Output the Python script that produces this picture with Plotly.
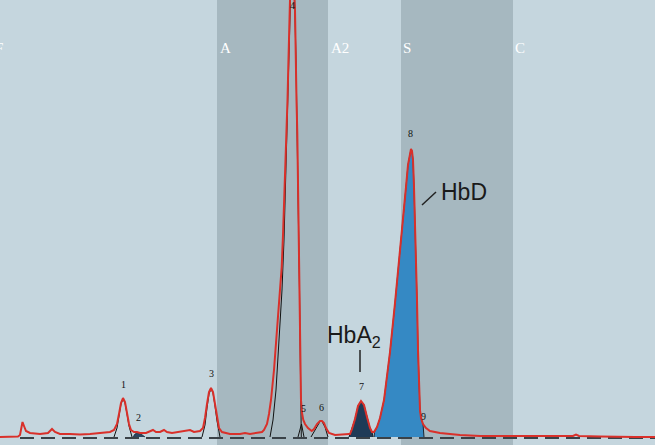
"""
HPLC chromatogram (Hb variant screen) - HbA2 and HbD peaks with retention windows.
"""

import plotly.graph_objects as go

# Retention windows (start, end, label, label position)
WINDOW_NAMES = ['A', 'A2', 'S', 'C']
WINDOW_LABEL_X = [218, 329, 401, 513]
SHADED_WINDOWS = [(217, 328), (401, 513)]

# Measured signal (red trace)
time_pts = [
    0, 10, 18, 20, 21, 22.5, 24, 26, 30, 40, 48, 52, 55, 60, 70, 80, 90, 100,
    105, 110, 114, 117, 119, 121, 123, 125, 127, 129, 131, 134, 137, 140, 146,
    150, 153, 156, 160, 164, 167, 172, 180, 186, 190, 194, 200, 203, 205, 207,
    209, 211, 213, 215, 217, 219, 222, 230, 240, 245, 250, 258, 262, 264, 267,
    269, 271, 274, 276.7, 279, 281.7, 283, 284.3, 285.5, 286.7, 287.5, 288.3,
    289, 289.5, 290.5, 292, 293.5, 295, 295.7, 296.5, 297.3, 297.8, 298.3,
    298.8, 299.3, 299.7, 300, 300.5, 301, 302, 303.3, 305, 308, 311.7, 314,
    317, 320, 322, 324, 326, 329, 335, 343, 349, 350, 352, 355, 358, 361, 364,
    367, 370, 372, 374, 377, 380, 384, 388, 390, 395, 400, 403, 406, 408, 410,
    411, 412, 413, 414, 415, 416, 417, 418, 419, 420, 421, 423, 426, 430, 440,
    450, 460, 480, 520, 560, 573, 576, 579, 600, 620, 625, 635, 655,
]
signal = [
    0, 0, 0.5, 2, 9, 15, 11, 6, 4, 3, 4, 8, 5, 3, 3, 2.5, 3, 4,
    5, 5, 7, 13, 23, 34, 39, 35, 24, 13, 7, 5, 5, 4, 4,
    6, 7, 5, 5, 7, 5, 4, 5, 6, 7, 5, 6, 9, 19, 33,
    45, 49, 45, 33, 19, 9, 5, 3, 3, 4, 3, 4, 5, 7, 13,
    23, 37, 67, 104, 137, 170, 202, 237, 272, 304, 337, 370,
    402, 427, 457, 472, 457, 427, 370, 337, 304, 270, 237,
    204, 170, 137, 104, 70, 37, 24, 17, 13, 9, 6, 8,
    13, 16, 16, 14, 9, 4, 2, 3, 3, 3, 8, 18, 31, 36, 32,
    20, 9, 5, 5, 10, 19, 37, 67, 85, 134, 184, 215, 250, 272, 285,
    288, 286, 277, 250, 217, 184, 137, 87, 52, 27, 19, 13, 9, 6, 4,
    3, 2, 1, 1, 1, 1, 2.5, 1, 0.5, 0, 0.5, 0, 0,
]

# Fitted peak outlines (black)
fit_peaks = [
    ([114, 117, 119, 121, 123, 125, 127, 129, 132],
     [0, 9, 21, 33, 38, 34, 23, 11, 0]),
    ([202, 205, 207, 209, 211, 213, 215, 217, 220],
     [0, 12, 29, 43, 48, 44, 31, 16, 0]),
    ([270, 273, 276, 279, 282, 284, 286, 288, 289.5, 291, 293, 294.5, 296,
      297.3, 298.5, 299.5, 300.3, 300.8, 301.3],
     [0, 17, 47, 92, 147, 197, 267, 347, 407, 457, 467, 442, 377,
      304, 227, 147, 77, 27, 0]),
    ([298, 301.5, 304], [0, 13, 0]),
    ([311, 314, 317, 320, 322, 325, 328], [0, 5, 11, 15.5, 15.5, 10, 0]),
]

# Integrated areas: peak 2, HbA2 (7), HbD (8)
p2_time = [133, 135, 138, 141, 145]
p2_signal = [0, 3, 4.5, 3, 0]
p7_time = [349, 350, 352, 355, 358, 361, 364, 367, 370, 372, 373]
p7_signal = [0, 3, 8, 18, 31, 36, 32, 20, 9, 5, 0]
p8_time = [374, 374.5, 377, 380, 384, 388, 390, 395, 400, 403, 406, 408, 410,
           411, 412, 413, 414, 415, 416, 417, 418, 419, 420, 421, 423, 424]
p8_signal = [0, 5, 10, 19, 37, 67, 85, 134, 184, 215, 250, 272, 285,
             288, 286, 277, 250, 217, 184, 137, 87, 52, 27, 19, 13, 0]

# Peak numbers
peak_ids = ['1', '2', '3', '4', '5', '6', '7', '8', '9']
peak_label_x = [123, 138, 211, 292, 303, 321, 361, 410, 423]
peak_label_y = [53, 20, 64, 432, 29, 30, 51, 304, 21]

BG_LIGHT = '#C5D6DE'
BG_DARK = '#A6B8C0'
RED = '#D9302A'

fig = go.Figure()

# Filled areas
fig.add_trace(go.Scatter(x=p2_time, y=p2_signal, mode='lines', fill='tozeroy',
                         fillcolor='#2B4660', line=dict(color='#1B2B3A', width=0.8),
                         showlegend=False, hoverinfo='skip'))
fig.add_trace(go.Scatter(x=p7_time, y=p7_signal, mode='lines', fill='tozeroy',
                         fillcolor='#1F3B57', line=dict(color='#15222E', width=1),
                         showlegend=False, hoverinfo='skip'))
fig.add_trace(go.Scatter(x=p8_time, y=p8_signal, mode='lines', fill='tozeroy',
                         fillcolor='#3589C4', line=dict(color='#1A2530', width=1),
                         showlegend=False, hoverinfo='skip'))

# Fitted peaks
for fx, fy in fit_peaks:
    fig.add_trace(go.Scatter(x=fx, y=fy, mode='lines',
                             line=dict(color='#111111', width=1),
                             showlegend=False, hoverinfo='skip'))

# Measured trace
fig.add_trace(go.Scatter(x=time_pts, y=signal, mode='lines',
                         line=dict(color=RED, width=2),
                         showlegend=False, name='signal'))

# Window backgrounds
for x0, x1 in SHADED_WINDOWS:
    fig.add_shape(type='rect', xref='x', yref='paper', x0=x0, x1=x1, y0=0, y1=1,
                  fillcolor=BG_DARK, line_width=0, layer='below')

# Baseline
fig.add_shape(type='line', xref='x', yref='y', x0=20, x1=655, y0=-1, y1=-1,
              line=dict(color='#3A4248', width=2, dash='14px,7px'), layer='below')

win_font = dict(family='Liberation Serif', size=15, color='white')
annotations = []
# 'F' window label sits just off the left edge, only its tail shows
annotations.append(dict(x=0, y=389, xref='paper', yref='y', text='F', showarrow=False,
                        xanchor='right', xshift=5, font=win_font))
for name, lx in zip(WINDOW_NAMES, WINDOW_LABEL_X):
    annotations.append(dict(x=lx, y=389, text=name, showarrow=False,
                            xanchor='left', font=win_font))
for pid, px, py in zip(peak_ids, peak_label_x, peak_label_y):
    annotations.append(dict(x=px, y=py, text=pid, showarrow=False,
                            font=dict(family='Liberation Serif', size=10, color='#111111')))

annotations.append(dict(x=354, y=101, text='HbA<sub>2</sub>', showarrow=False,
                        font=dict(family='Liberation Sans', size=23, color='#1A1A1A')))
annotations.append(dict(x=439, y=245, text='HbD', showarrow=False, xanchor='left',
                        font=dict(family='Liberation Sans', size=23, color='#1A1A1A')))
fig.update_layout(annotations=annotations)

# Leader lines
fig.add_shape(type='line', xref='x', yref='y', x0=360, x1=360, y0=87, y1=65,
              line=dict(color='#222222', width=1.5))
fig.add_shape(type='line', xref='x', yref='y', x0=422, x1=436, y0=232, y1=245,
              line=dict(color='#222222', width=1.5))

fig.update_layout(
    width=655, height=445,
    margin=dict(l=0, r=0, t=0, b=0),
    paper_bgcolor=BG_LIGHT,
    plot_bgcolor=BG_LIGHT,
    showlegend=False,
)
fig.update_xaxes(range=[0, 655], visible=False, showgrid=False, zeroline=False)
fig.update_yaxes(range=[-8, 437], visible=False, showgrid=False, zeroline=False)

# page body has a default 8px margin; drop it so the figure fills the window
fig.write_html("out.html", config={'displayModeBar': False},
               post_script="document.body.style.margin='0';")
